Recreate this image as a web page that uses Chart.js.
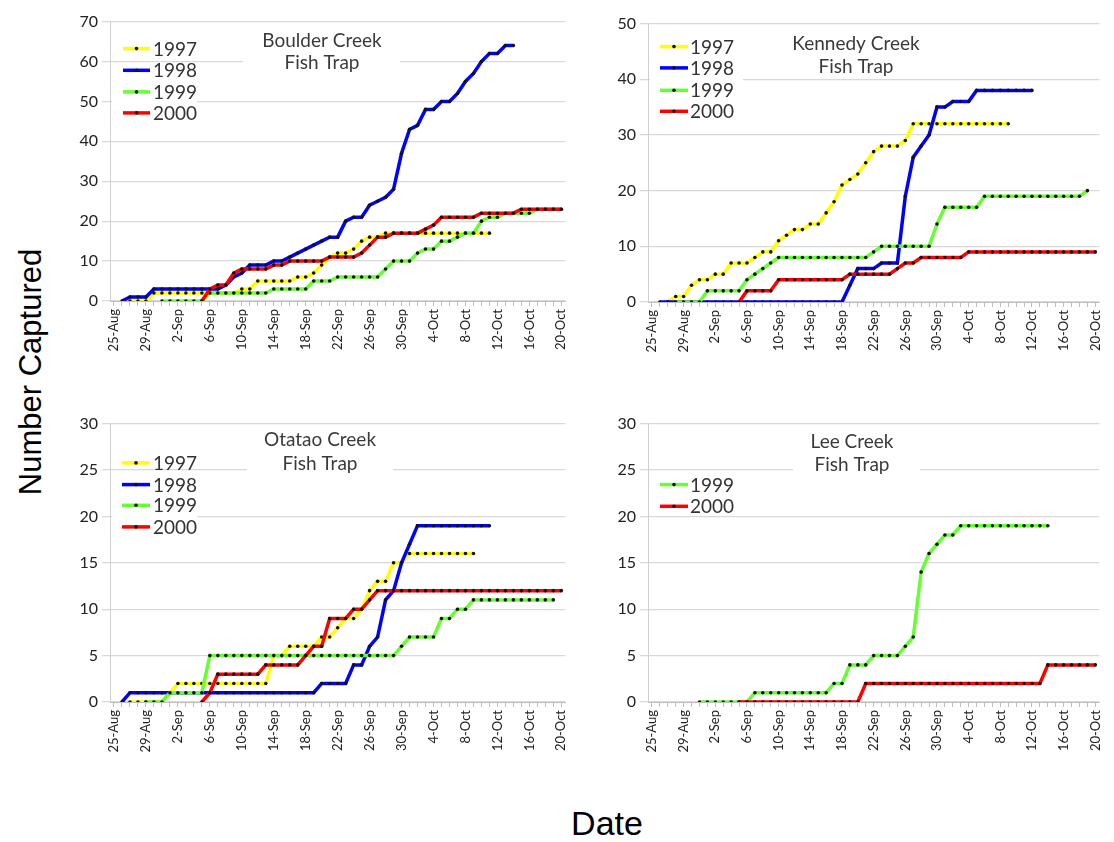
<!DOCTYPE html>
<html>
<head>
<meta charset="utf-8">
<script src="https://cdn.jsdelivr.net/npm/chart.js@4.4.0/dist/chart.umd.min.js"></script>
<style>
  body { margin: 0; background: #fff; width: 1114px; height: 842px; position: relative; overflow: hidden; }
  canvas { position: absolute; }
  #yTitle { position: absolute; left: 31px; top: 372px; transform: translate(-50%, -50%) rotate(-90deg);
            font: 31px "Liberation Sans", Arial, sans-serif; white-space: nowrap; color: #000; }
  #xTitle { position: absolute; left: 607px; top: 823px; transform: translate(-50%, -50%);
            font: 34px "Liberation Sans", Arial, sans-serif; color: #000; }
</style>
</head>
<body>
<canvas id="boulder" width="520" height="353" style="left:60px;top:8px"></canvas>
<canvas id="kennedy" width="516" height="352" style="left:598px;top:10px"></canvas>
<canvas id="otatao" width="520" height="352" style="left:60px;top:410px"></canvas>
<canvas id="lee" width="516" height="352" style="left:598px;top:410px"></canvas>
<div id="yTitle">Number Captured</div>
<div id="xTitle">Date</div>
<script>
// dates on the category axis (25-Aug .. 20-Oct)
const dates = ['25-Aug','26-Aug','27-Aug','28-Aug','29-Aug','30-Aug','31-Aug',
  '1-Sep','2-Sep','3-Sep','4-Sep','5-Sep','6-Sep','7-Sep','8-Sep','9-Sep','10-Sep',
  '11-Sep','12-Sep','13-Sep','14-Sep','15-Sep','16-Sep','17-Sep','18-Sep','19-Sep','20-Sep',
  '21-Sep','22-Sep','23-Sep','24-Sep','25-Sep','26-Sep','27-Sep','28-Sep','29-Sep','30-Sep',
  '1-Oct','2-Oct','3-Oct','4-Oct','5-Oct','6-Oct','7-Oct','8-Oct','9-Oct','10-Oct',
  '11-Oct','12-Oct','13-Oct','14-Oct','15-Oct','16-Oct','17-Oct','18-Oct','19-Oct','20-Oct'];

const N = null;

// Boulder Creek
const boulder1997 = [N,N,0,0,0,2,2,2,2,2, 2,2,2,2,2,2,3,3,5,5, 5,5,5,6,6,7,9,11,12,12,
  13,15,16,16,17,17,17,17,17,17, 17,17,17,17,17,17,17,17,N,N, N,N,N,N,N,N,N];
const boulder1998 = [N,0,1,1,1,3,3,3,3,3, 3,3,3,3,4,6,7,9,9,9, 10,10,11,12,13,14,15,16,16,20,
  21,21,24,25,26,28,37,43,44,48, 48,50,50,52,55,57,60,62,62,64, 64,N,N,N,N,N,N];
const boulder1999 = [N,N,N,N,N,N,0,0,0,0, 0,0,2,2,2,2,2,2,2,2, 3,3,3,3,3,5,5,5,6,6,
  6,6,6,6,8,10,10,10,12,13, 13,15,15,16,17,17,20,21,21,22, 22,22,22,23,23,23,23];
const boulder2000 = [N,N,N,N,N,N,N,N,N,N, N,0,3,4,4,7,8,8,8,8, 9,9,10,10,10,10,10,11,11,11,
  11,12,14,16,16,17,17,17,17,18, 19,21,21,21,21,21,22,22,22,22, 22,23,23,23,23,23,23];

// Kennedy Creek
const kennedy1997 = [N,N,0,1,1,3,4,4,5,5, 7,7,7,8,9,9,11,12,13,13, 14,14,16,18,21,22,23,25,27,28,
  28,28,29,32,32,32,32,32,32,32, 32,32,32,32,32,32,N,N,N,N, N,N,N,N,N,N,N];
const kennedy1998 = [N,0,0,0,0,0,0,0,0,0, 0,0,0,0,0,0,0,0,0,0, 0,0,0,0,0,3,6,6,6,7,
  7,7,19,26,28,30,35,35,36,36, 36,38,38,38,38,38,38,38,38,N, N,N,N,N,N,N,N];
const kennedy1999 = [N,N,N,0,0,0,0,2,2,2, 2,2,4,5,6,7,8,8,8,8, 8,8,8,8,8,8,8,8,9,10,
  10,10,10,10,10,10,14,17,17,17, 17,17,19,19,19,19,19,19,19,19, 19,19,19,19,19,20,N];
const kennedy2000 = [N,N,N,N,N,N,N,N,N,N, N,0,2,2,2,2,4,4,4,4, 4,4,4,4,4,5,5,5,5,5,
  5,6,7,7,8,8,8,8,8,8, 9,9,9,9,9,9,9,9,9,9, 9,9,9,9,9,9,9];

// Otatao Creek
const otatao1997 = [N,N,0,0,0,0,0,1,2,2, 2,2,2,2,2,2,2,2,2,2, 5,5,6,6,6,6,7,7,8,9,
  9,10,12,13,13,15,15,16,16,16, 16,16,16,16,16,16,N,N,N,N, N,N,N,N,N,N,N];
const otatao1998 = [N,0,1,1,1,1,1,1,1,1, 1,1,1,1,1,1,1,1,1,1, 1,1,1,1,1,1,2,2,2,2,
  4,4,6,7,11,12,15,17,19,19, 19,19,19,19,19,19,19,19,N,N, N,N,N,N,N,N,N];
const otatao1999 = [N,N,N,N,0,0,0,1,1,1, 1,1,5,5,5,5,5,5,5,5, 5,5,5,5,5,5,5,5,5,5,
  5,5,5,5,5,5,6,7,7,7, 7,9,9,10,10,11,11,11,11,11, 11,11,11,11,11,11,N];
const otatao2000 = [N,N,N,N,N,N,N,N,N,N, N,0,1,3,3,3,3,3,3,4, 4,4,4,4,5,6,6,9,9,9,
  10,10,11,12,12,12,12,12,12,12, 12,12,12,12,12,12,12,12,12,12, 12,12,12,12,12,12,12];

// Lee Creek
const lee1999 = [N,N,N,N,N,N,0,0,0,0, 0,0,0,1,1,1,1,1,1,1, 1,1,1,2,2,4,4,4,5,5,
  5,5,6,7,14,16,17,18,18,19, 19,19,19,19,19,19,19,19,19,19, 19,N,N,N,N,N,N];
const lee2000 = [N,N,N,N,N,N,N,N,N,N, N,0,0,0,0,0,0,0,0,0, 0,0,0,0,0,0,0,2,2,2,
  2,2,2,2,2,2,2,2,2,2, 2,2,2,2,2,2,2,2,2,2, 4,4,4,4,4,4,4];

const yearColors = { '1997': '#ffff00', '1998': '#0000ff', '1999': '#66ff33', '2000': '#ff0000' };
const yearOrder = { '1997': 4, '1998': 3, '1999': 2, '2000': 1 };

Chart.defaults.font.family = 'Lato, "Liberation Sans", sans-serif';

// white boxes, panel title and legend drawn inside the plot area
const panelDeco = {
  id: 'panelDeco',
  beforeDatasetsDraw(chart, args, o) {
    const ctx = chart.ctx;
    const L = chart.chartArea.left, T = chart.chartArea.top;
    ctx.save();
    ctx.fillStyle = '#fff';
    o.boxes.forEach(b => ctx.fillRect(L + b[0], T + b[1], b[2], b[3]));
    ctx.fillStyle = '#3a3a3a';
    ctx.font = '19px Lato, sans-serif';
    ctx.textAlign = 'center';
    ctx.textBaseline = 'middle';
    o.title.forEach((t, i) => ctx.fillText(t, L + o.tx, T + o.ty[i]));
    ctx.textAlign = 'left';
    ctx.font = '19px Lato, sans-serif';
    chart.data.datasets.forEach((ds, i) => {
      const y = T + o.rows[i];
      ctx.strokeStyle = ds.borderColor;
      ctx.lineWidth = 3.5;
      ctx.beginPath();
      ctx.moveTo(L + o.lx[0], y);
      ctx.lineTo(L + o.lx[1], y);
      ctx.stroke();
      ctx.fillStyle = '#141414';
      ctx.beginPath();
      ctx.arc(L + (o.lx[0] + o.lx[1]) / 2, y, 1.8, 0, Math.PI * 2);
      ctx.fill();
      ctx.fillStyle = '#333';
      ctx.fillText(ds.label, L + o.textX, y + 1);
    });
    ctx.restore();
  }
};

function makePanel(id, series, yMax, yStep, padRight, deco) {
  return new Chart(document.getElementById(id), {
    type: 'line',
    data: {
      labels: dates,
      datasets: series.map(s => ({
        label: s[0],
        data: s[1],
        borderColor: yearColors[s[0]],
        backgroundColor: yearColors[s[0]],
        borderWidth: 3.5,
        tension: 0,
        pointRadius: 1.8,
        pointBackgroundColor: '#141414',
        pointBorderColor: '#141414',
        pointBorderWidth: 0,
        order: yearOrder[s[0]]
      }))
    },
    options: {
      responsive: false,
      animation: false,
      events: [],
      layout: { padding: { top: 10, right: padRight, left: 0, bottom: 0 } },
      plugins: { legend: { display: false }, tooltip: { enabled: false }, panelDeco: deco },
      scales: {
        x: {
          offset: true,
          grid: { drawOnChartArea: false, offset: false, tickLength: 5, color: '#bfbfbf' },
          border: { color: '#bfbfbf' },
          ticks: {
            autoSkip: false, maxRotation: 90, minRotation: 90, padding: 3,
            font: { size: 13 }, color: '#222',
            callback: function (v, i) { return i % 4 === 0 ? this.getLabelForValue(v) : ''; }
          },
          afterFit: s => { s.height = 60; }
        },
        y: {
          min: 0, max: yMax,
          ticks: { stepSize: yStep, font: { size: 16 }, color: '#222', padding: 4 },
          grid: { color: '#d9d9d9', lineWidth: 1.3, tickLength: 8 },
          border: { color: '#d0d0d0' },
          afterFit: s => { s.width = 50; }
        }
      }
    },
    plugins: [panelDeco]
  });
}

makePanel('boulder',
  [['1997', boulder1997], ['1998', boulder1998], ['1999', boulder1999], ['2000', boulder2000]],
  70, 10, 10,
  { title: ['Boulder Creek', 'Fish Trap'], tx: 212, ty: [19, 41.5],
    boxes: [[133, 2, 157, 52], [2, 44, 85, 56]], lx: [13, 40], textX: 43, rows: [27, 48.7, 70.3, 91.3] });

makePanel('kennedy',
  [['1997', kennedy1997], ['1998', kennedy1998], ['1999', kennedy1999], ['2000', kennedy2000]],
  50, 10, 8,
  { title: ['Kennedy Creek', 'Fish Trap'], tx: 208, ty: [20, 43],
    boxes: [[2, 50, 93, 50]], lx: [12, 40], textX: 42, rows: [23, 44.3, 66.7, 87.7] });

makePanel('otatao',
  [['1997', otatao1997], ['1998', otatao1998], ['1999', otatao1999], ['2000', otatao2000]],
  30, 5, 10,
  { title: ['Otatao Creek', 'Fish Trap'], tx: 210, ty: [16.7, 40.7],
    boxes: [[137, 2, 146, 53], [2, 49, 85, 63]], lx: [12, 40], textX: 43, rows: [39.3, 61, 81.7, 103.3] });

makePanel('lee',
  [['1999', lee1999], ['2000', lee2000]],
  30, 5, 8,
  { title: ['Lee Creek', 'Fish Trap'], tx: 204, ty: [18.3, 41.7],
    boxes: [[145, 2, 127, 53]], lx: [12, 40], textX: 42, rows: [61, 82.7] });
</script>
</body>
</html>
